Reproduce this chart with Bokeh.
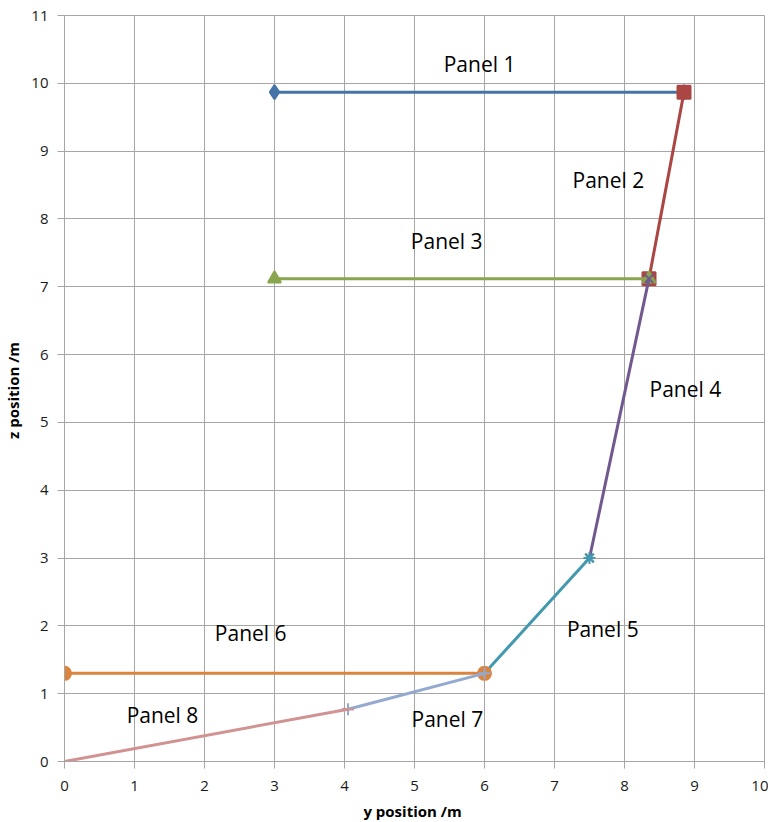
from bokeh.plotting import figure
from bokeh.models import FixedTicker, ColumnDataSource
from bokeh.embed import file_html
from bokeh.resources import INLINE
from bokeh.core.properties import value

# Panel end points (y position, z position)
panel_names = ["Panel 1", "Panel 2", "Panel 3", "Panel 4", "Panel 5", "Panel 6", "Panel 7", "Panel 8"]
panel_y = [[3.0, 8.85], [8.85, 8.35], [3.0, 8.35], [8.35, 7.5], [7.5, 6.0], [0.0, 6.0], [6.0, 4.05], [4.05, 0.0]]
panel_z = [[9.87, 9.87], [9.87, 7.12], [7.12, 7.12], [7.12, 3.0], [3.0, 1.3], [1.3, 1.3], [1.3, 0.77], [0.77, 0.0]]
label_y = [5.93, 7.77, 5.46, 8.87, 7.69, 2.66, 5.47, 1.40]
label_z = [10.28, 8.58, 7.67, 5.50, 1.96, 1.90, 0.62, 0.69]
x_ticks = list(range(0, 11))
z_ticks = list(range(0, 12))

colors = ["#4572A7", "#AA4643", "#89A54E", "#71588F", "#4198AF", "#DB843D", "#93A9CF", "#D19392"]
markers = ["diamond", "square", "triangle", "x", "asterisk", "circle", "cross", "dash"]
msizes = [14, 13, 13, 12, 12, 13, 12, 12]

FONT = "Open Sans"
GRID = "#a6a6a6"

p = figure(frame_width=700, frame_height=746, x_range=(0, 10), y_range=(0, 11),
           output_backend="svg", toolbar_location=None,
           min_border_left=58, min_border_top=15, min_border_right=4, min_border_bottom=58)

for ys, zs, c, m, s in zip(panel_y, panel_z, colors, markers, msizes):
    p.line(ys, zs, line_color=c, line_width=3)
    p.scatter(ys, zs, marker=m, size=s, fill_color=c, line_color=c, line_width=2)

src = ColumnDataSource(dict(x=label_y, y=label_z, t=panel_names))
p.text(x="x", y="y", text="t", source=src, text_align="center", text_baseline="middle",
       text_font=value(FONT), text_font_size="21px", text_color="#000000")

p.xaxis.ticker = FixedTicker(ticks=x_ticks)
p.yaxis.ticker = FixedTicker(ticks=z_ticks)
p.xgrid.ticker = FixedTicker(ticks=x_ticks)
p.ygrid.ticker = FixedTicker(ticks=z_ticks)
for g in (p.xgrid, p.ygrid):
    g.grid_line_color = GRID
    g.grid_line_width = 1
p.outline_line_color = GRID

for ax in (p.xaxis, p.yaxis):
    ax.axis_line_color = GRID
    ax.major_tick_line_color = GRID
    ax.major_tick_out = 7
    ax.major_tick_in = 0
    ax.minor_tick_line_color = None
    ax.major_label_text_font = FONT
    ax.major_label_text_font_size = "15px"
    ax.major_label_text_color = "#1a1a1a"
    ax.axis_label_text_font = FONT
    ax.axis_label_text_font_size = "15px"
    ax.axis_label_text_font_style = "bold"
    ax.axis_label_text_color = "#000000"

p.xaxis.axis_label = "y position  /m"
p.yaxis.axis_label = "z position  /m"
p.xaxis.major_label_standoff = 12
p.yaxis.major_label_standoff = 9
p.xaxis.axis_label_standoff = 7
p.yaxis.axis_label_standoff = 5

open("out.html", "w").write(file_html(p, INLINE))
